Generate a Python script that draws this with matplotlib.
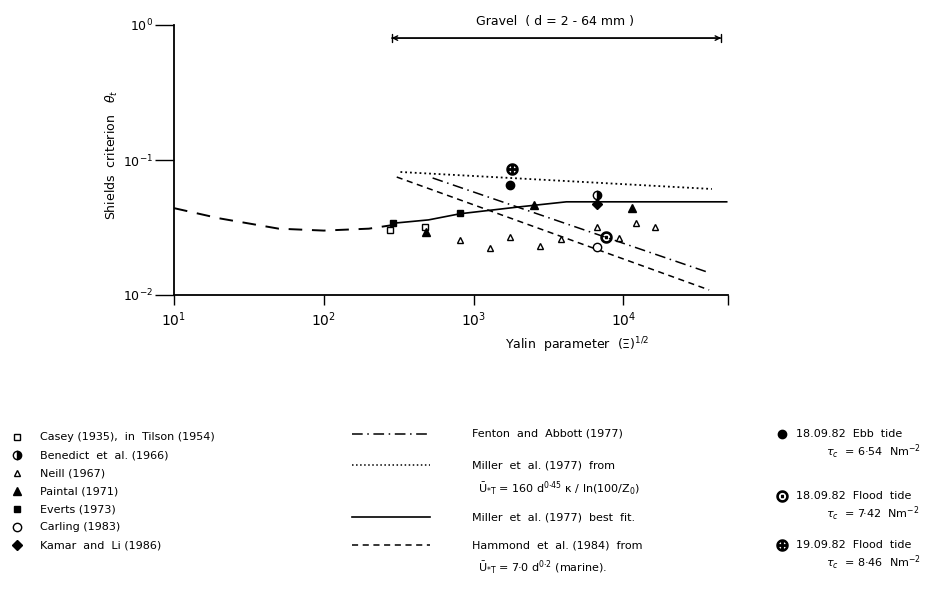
import matplotlib
matplotlib.use('Agg')
import matplotlib.pyplot as plt
from matplotlib.lines import Line2D

# curves (x = Yalin parameter^0.5, y = Shields criterion)
shields_x = [10, 20, 50, 100, 200, 290]
shields_y = [0.044, 0.037, 0.031, 0.030, 0.031, 0.033]
best_fit_x = [290, 500, 815, 2040, 4170, 6600, 49000]
best_fit_y = [0.034, 0.036, 0.040, 0.045, 0.049, 0.049, 0.049]
miller_x = [325, 39000]
miller_y = [0.0815, 0.061]
hammond_x = [307, 37400]
hammond_y = [0.0748, 0.0109]
fenton_x = [533, 36300]
fenton_y = [0.0736, 0.0148]

# data points
casey_x, casey_y = [275, 475], [0.0303, 0.0319]
benedict_x, benedict_y = [6710], [0.055]
neill_x = [807, 1279, 1740, 2760, 3860, 6710, 9400, 12200, 16300]
neill_y = [0.0255, 0.0223, 0.0269, 0.0231, 0.026, 0.0319, 0.0264, 0.0341, 0.0319]
paintal_x, paintal_y = [485, 2550, 11470], [0.0293, 0.0464, 0.0441]
everts_x, everts_y = [288, 807], [0.0341, 0.0405]
carling_x, carling_y = [6710], [0.0227]
kamar_x, kamar_y = [6710], [0.0472]
ebb_x, ebb_y = [1740], [0.0653]
flood18_x, flood18_y = [7700], [0.0269]
flood19_x, flood19_y = [1820], [0.0858]

gravel_range = [284, 45000]

point_labels = ['Casey (1935),  in  Tilson (1954)', 'Benedict  et  al. (1966)', 'Neill (1967)',
                'Paintal (1971)', 'Everts (1973)', 'Carling (1983)', 'Kamar  and  Li (1986)']
line_labels = ['Fenton  and  Abbott (1977)', 'Miller  et  al. (1977)  from',
               'Miller  et  al. (1977)  best  fit.', 'Hammond  et  al. (1984)  from']
line_notes = [r'$\bar{\mathrm{U}}_{*\mathrm{T}}$ = 160 d$^{0{\cdot}45}$ κ / ln(100/Z$_0$)',
              r'$\bar{\mathrm{U}}_{*\mathrm{T}}$ = 7·0 d$^{0{\cdot}2}$ (marine).']
tide_labels = ['18.09.82  Ebb  tide', '18.09.82  Flood  tide', '19.09.82  Flood  tide']
tide_notes = [r'$\tau_c$  = 6·54  Nm$^{-2}$', r'$\tau_c$  = 7·42  Nm$^{-2}$', r'$\tau_c$  = 8·46  Nm$^{-2}$']

plt.rcParams.update({'font.size': 8, 'font.family': 'DejaVu Sans', 'mathtext.fontset': 'dejavusans'})
W, H = 940, 596
fig = plt.figure(figsize=(9.4, 5.96), dpi=100)
ax = fig.add_axes([174 / W, 1 - 295 / H, (728 - 174) / W, (295 - 25) / H])

k = 'black'
shields_ls = (0, (7, 5))
hammond_ls = (0, (4, 3))
fenton_ls = (0, (7, 3, 1, 3))
ax.plot(shields_x, shields_y, color=k, lw=1.4, ls=shields_ls)
ax.plot(best_fit_x, best_fit_y, color=k, lw=1.2)
ax.plot(miller_x, miller_y, color=k, lw=1.3, ls=':')
ax.plot(hammond_x, hammond_y, color=k, lw=1.1, ls=hammond_ls)
ax.plot(fenton_x, fenton_y, color=k, lw=1.1, ls=fenton_ls)

styles = {
    'casey': dict(marker='s', ms=5, mfc='white', mec=k, mew=1),
    'benedict': dict(marker='o', ms=6, fillstyle='right', mfc=k, mfcalt='white', mec=k, mew=1),
    'neill': dict(marker='^', ms=5, mfc='white', mec=k, mew=1),
    'paintal': dict(marker='^', ms=6, mfc=k, mec=k),
    'everts': dict(marker='s', ms=5, mfc=k, mec=k),
    'carling': dict(marker='o', ms=6, mfc='white', mec=k, mew=1),
    'kamar': dict(marker='D', ms=5, mfc=k, mec=k),
    'ebb': dict(marker='o', ms=6, mfc=k, mec=k),
    'flood18': dict(marker='$\\odot$', ms=8, mfc=k, mec=k),
    'flood19': dict(marker='$\\oplus$', ms=8, mfc=k, mec=k),
}
series = [('casey', casey_x, casey_y), ('benedict', benedict_x, benedict_y), ('neill', neill_x, neill_y),
          ('paintal', paintal_x, paintal_y), ('everts', everts_x, everts_y), ('carling', carling_x, carling_y),
          ('kamar', kamar_x, kamar_y), ('ebb', ebb_x, ebb_y), ('flood18', flood18_x, flood18_y),
          ('flood19', flood19_x, flood19_y)]
for name, xs, ys in series:
    ax.plot(xs, ys, ls='none', zorder=3, **styles[name])

ax.set_xscale('log')
ax.set_yscale('log')
ax.set_xlim(10, 50000)
ax.set_ylim(0.01, 1)
ax.set_xticks([10, 100, 1000, 10000, 50000])
ax.set_xticklabels(['$10^1$', '$10^2$', '$10^3$', '$10^4$', ''])
ax.set_yticks([0.01, 0.1, 1])
ax.set_yticklabels(['$10^{-2}$', '$10^{-1}$', '$10^0$'])
ax.minorticks_off()
ax.tick_params(axis='x', direction='out', length=7, width=1, labelsize=10, pad=4)
ax.tick_params(axis='y', direction='out', length=14, width=1, labelsize=9, pad=1)
for s in ['top', 'right']:
    ax.spines[s].set_visible(False)
for s in ['left', 'bottom']:
    ax.spines[s].set_linewidth(1.3)

# gravel range arrow
gy = 0.80
ax.annotate('', xy=(gravel_range[1], gy), xytext=(gravel_range[0], gy),
            arrowprops=dict(arrowstyle='<->', lw=1, color=k, shrinkA=0, shrinkB=0), annotation_clip=False)
ax.annotate('', xy=(gravel_range[1], gy), xytext=(gravel_range[0], gy),
            arrowprops=dict(arrowstyle='|-|, widthA=0.35, widthB=0.35', lw=1, color=k, shrinkA=0, shrinkB=0),
            annotation_clip=False)
fig.text(555 / W, 1 - 22 / H, 'Gravel  ( d = 2 - 64 mm )', ha='center', va='center', fontsize=9)

fig.text(112 / W, 1 - 155 / H, r'Shields  criterion   $\theta_t$', rotation=90, ha='center', va='center',
         fontsize=9)
fig.text(505 / W, 1 - 345 / H, r'Yalin  parameter  $(\Xi)^{1/2}$', ha='left', va='center', fontsize=9)

# legend drawn by hand, three columns
def fx(px):
    return px / W

def fy(py):
    return 1 - py / H

order = ['casey', 'benedict', 'neill', 'paintal', 'everts', 'carling', 'kamar']
for i, (name, lbl) in enumerate(zip(order, point_labels)):
    y = 437 + 18 * i
    fig.add_artist(Line2D([fx(17)], [fy(y)], ls='none', transform=fig.transFigure, **styles[name]))
    fig.text(fx(40), fy(y), lbl, va='center', ha='left')

line_styles = [dict(ls=fenton_ls, lw=1.1), dict(ls=':', lw=1.1), dict(ls='-', lw=1.2), dict(ls=hammond_ls, lw=1.1)]
line_rows = [434, 465, 517, 545]
for lbl, st, y in zip(line_labels, line_styles, line_rows):
    fig.add_artist(Line2D([fx(352), fx(430)], [fy(y), fy(y)], color=k, transform=fig.transFigure, **st))
    fig.text(fx(472), fy(y), lbl, va='center', ha='left')
for note, y in zip(line_notes, [488, 567]):
    fig.text(fx(478), fy(y), note, va='center', ha='left')

tide_rows = [434, 496, 545]
for name, lbl, note, y in zip(['ebb', 'flood18', 'flood19'], tide_labels, tide_notes, tide_rows):
    fig.add_artist(Line2D([fx(782)], [fy(y)], ls='none', transform=fig.transFigure, **styles[name]))
    fig.text(fx(796), fy(y), lbl, va='center', ha='left')
    fig.text(fx(826), fy(y + 18), note, va='center', ha='left')

fig.savefig('out.png', dpi=100)
